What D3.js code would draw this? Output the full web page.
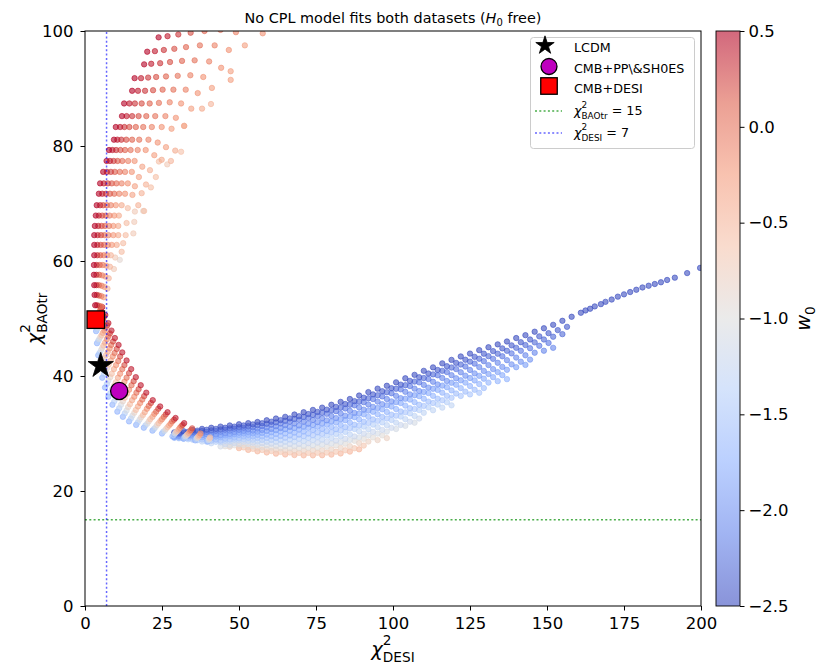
<!DOCTYPE html>
<html>
<head>
<meta charset="utf-8">
<title>No CPL model fits both datasets</title>
<script src="https://cdn.jsdelivr.net/npm/d3@7"></script>
<style>
  body { margin: 0; background: #fff; }
  svg text { font-family: "DejaVu Sans", sans-serif; fill: #000; }
</style>
</head>
<body>
<svg id="chart" width="819" height="670"></svg>
<script>
"use strict";

// ---- axis ticks ----
let xTicks = [0, 25, 50, 75, 100, 125, 150, 175, 200];
let yTicks = [0, 20, 40, 60, 80, 100];
let w0Ticks = [0.5, 0.0, -0.5, -1.0, -1.5, -2.0, -2.5];

// coolwarm colormap anchors (w0 value -> colour)
let cmapW0 = [-2.5, -2.125, -1.75, -1.375, -1.0, -0.625, -0.25, 0.125, 0.5];
let cmapColors = ["#3b4cc0", "#6282ea", "#8db0fe", "#b8d0f9", "#dddddd", "#f5c4ad", "#f49a7b", "#de604d", "#b40426"];

// threshold lines
let chi2DesiLimit = 7;
let chi2BaoLimit = 15;

// reference models [chi2_DESI, chi2_BAOtr]
let lcdmPoint = [5.1, 41.8];
let cmbPPPoint = [11.1, 37.4];
let cmbDesiPoint = [3.5, 49.8];

// ---- lower band: one curve per w0 (top edge first), points [chi2_DESI, chi2_BAOtr] ----
let bandW0 = [-2.5, -2.4, -2.3, -2.2, -2.1, -2.0, -1.9, -1.8, -1.7, -1.6, -1.5, -1.4, -1.3, -1.2, -1.1, -0.95, -0.8, -0.65, -0.5];
let bandCurves = [
  [[29,30.2],[32,30.4],[35,30.6],[38,30.8],[41,31.0],[44,31.2],[47,31.4],[50,31.6],[53,31.8],[56,32.0],[59,32.3],[62,32.6],[65,32.9],[68,33.3],[71,33.7],[74,34.1],[77,34.5],[80,35.0],[83,35.5],[86,36.0],[89,36.6],[92,37.2],[95,37.8],[98,38.3],[101,38.9],[104,39.6],[107,40.2],[110,40.9],[113,41.5],[116,42.2],[119,42.8],[122,43.4],[125,43.9],[128,44.5],[131,45.0],[134,45.5],[137,46.0],[140,46.6],[143,47.1],[146,47.7],[149,48.3],[152,48.9],[155,49.6],[158,50.3],[161,51.0],[162.5,51.4],[164,51.7],[165.5,52.1],[167.5,52.5],[169,52.9],[171,53.3],[173,53.8],[175,54.2],[177,54.6],[179,55.0],[181,55.4],[183,55.7],[185,56.0],[187,56.3],[189,56.7],[191.5,57.1],[195.5,57.9],[199.7,58.8]],
  [[30.5,30.1],[33.5,30.3],[36.5,30.5],[39.5,30.65],[42.5,30.8],[45.5,31.0],[48.5,31.2],[51.5,31.4],[54.5,31.58],[57.5,31.78],[60.5,32.05],[63.5,32.33],[66.5,32.63],[69.5,33.0],[72.5,33.38],[75.5,33.75],[78.5,34.15],[81.5,34.63],[84.5,35.13],[87.5,35.63],[90.5,36.23],[93.5,36.8],[96.5,37.35],[99.5,37.88],[102.5,38.5],[105.5,39.15],[108.5,39.78],[111.5,40.43],[114.5,41.05],[117.5,41.7],[120.5,42.28],[123.5,42.83],[126.5,43.33],[129.5,43.88],[132.5,44.33],[135.5,44.8],[138.5,45.33],[141.5,45.88],[144.5,46.35],[147.5,46.9],[150.5,47.45],[153.5,47.98],[156.5,48.55]],
  [[29,29.9],[32,30.1],[35,30.3],[38,30.45],[41,30.55],[44,30.7],[47,30.9],[50,31.1],[53,31.28],[56,31.45],[59,31.68],[62,31.93],[65,32.2],[68,32.53],[71,32.88],[74,33.23],[77,33.6],[80,34.03],[83,34.5],[86,35.0],[89,35.55],[92,36.13],[95,36.65],[98,37.18],[101,37.78],[104,38.4],[107,39.03],[110,39.65],[113,40.28],[116,40.9],[119,41.48],[122,42.0],[125,42.5],[128,43.0],[131,43.45],[134,43.88],[137,44.38],[140,44.9],[143,45.38],[146,45.85],[149,46.35],[152,46.83],[155,47.28]],
  [[30.5,29.9],[33.5,30.1],[36.5,30.25],[39.5,30.3],[42.5,30.45],[45.5,30.65],[48.5,30.83],[51.5,30.98],[54.5,31.1],[57.5,31.3],[60.5,31.53],[63.5,31.75],[66.5,32.05],[69.5,32.38],[72.5,32.7],[75.5,33.03],[78.5,33.43],[81.5,33.88],[84.5,34.35],[87.5,34.9],[90.5,35.45],[93.5,35.98],[96.5,36.45],[99.5,37.0],[102.5,37.68],[105.5,38.25],[108.5,38.9],[111.5,39.48],[114.5,40.13],[117.5,40.68],[120.5,41.2],[123.5,41.65],[126.5,42.15],[129.5,42.58],[132.5,42.98],[135.5,43.43],[138.5,43.93],[141.5,44.38],[144.5,44.83],[147.5,45.25],[150.5,45.75]],
  [[29,29.7],[32,29.8],[35,30.0],[38,30.1],[41,30.1],[44,30.3],[47,30.5],[50,30.65],[53,30.75],[56,30.85],[59,31.05],[62,31.25],[65,31.45],[68,31.75],[71,32.05],[74,32.35],[77,32.65],[80,33.05],[83,33.5],[86,33.95],[89,34.55],[92,35.05],[95,35.55],[98,36.0],[101,36.55],[104,37.25],[107,37.8],[110,38.45],[113,39.0],[116,39.65],[119,40.15],[122,40.65],[125,41.05],[128,41.55],[131,41.9],[134,42.3],[137,42.75],[140,43.2],[143,43.6],[146,44.05],[149,44.4],[152,44.9]],
  [[30.5,29.6],[33.5,29.7],[36.5,29.85],[39.5,29.9],[42.5,29.85],[45.5,30.05],[48.5,30.25],[51.5,30.45],[54.5,30.5],[57.5,30.6],[60.5,30.78],[63.5,30.95],[66.5,31.15],[69.5,31.4],[72.5,31.7],[75.5,31.98],[78.5,32.28],[81.5,32.68],[84.5,33.1],[87.5,33.58],[90.5,34.15],[93.5,34.63],[96.5,35.1],[99.5,35.58],[102.5,36.15],[105.5,36.8],[108.5,37.38],[111.5,37.98],[114.5,38.53],[117.5,39.13],[120.5,39.6],[123.5,40.05],[126.5,40.45],[129.5,40.88],[132.5,41.2],[135.5,41.58],[138.5,42.03],[141.5,42.48],[144.5,42.85]],
  [[29,29.45],[32,29.55],[35,29.65],[38,29.7],[41,29.65],[44,29.7],[47,29.9],[50,30.13],[53,30.25],[56,30.3],[59,30.43],[62,30.58],[65,30.75],[68,30.95],[71,31.2],[74,31.48],[77,31.75],[80,32.1],[83,32.5],[86,32.95],[89,33.48],[92,33.98],[95,34.43],[98,34.9],[101,35.45],[104,36.05],[107,36.65],[110,37.23],[113,37.78],[116,38.33],[119,38.83],[122,39.25],[125,39.65],[128,40.03],[131,40.35],[134,40.68],[137,41.08],[140,41.53],[143,41.93]],
  [[30.5,29.43],[33.5,29.53],[36.5,29.53],[39.5,29.45],[42.5,29.48],[45.5,29.68],[48.5,29.88],[51.5,30.0],[54.5,30.0],[57.5,30.08],[60.5,30.2],[63.5,30.33],[66.5,30.5],[69.5,30.7],[72.5,30.98],[75.5,31.2],[78.5,31.53],[81.5,31.9],[84.5,32.3],[87.5,32.83],[90.5,33.33],[93.5,33.78],[96.5,34.2],[99.5,34.7],[102.5,35.3],[105.5,35.9],[108.5,36.5],[111.5,37.03],[114.5,37.58],[117.5,38.05],[120.5,38.48],[123.5,38.85],[126.5,39.23],[129.5,39.53],[132.5,39.8],[135.5,40.15]],
  [[29,29.3],[32,29.35],[35,29.45],[38,29.35],[41,29.2],[44,29.35],[47,29.55],[50,29.75],[53,29.75],[56,29.75],[59,29.8],[62,29.9],[65,30.0],[68,30.15],[71,30.35],[74,30.6],[77,30.8],[80,31.15],[83,31.5],[86,31.9],[89,32.45],[92,32.9],[95,33.35],[98,33.75],[101,34.25],[104,34.85],[107,35.45],[110,36.05],[113,36.55],[116,37.1],[119,37.5],[122,37.9],[125,38.25],[128,38.6],[131,38.85],[134,39.1],[137,39.45]],
  [[30.5,29.25],[33.5,29.23],[36.5,29.25],[39.5,29.1],[42.5,28.93],[45.5,29.1],[48.5,29.3],[51.5,29.5],[54.5,29.48],[57.5,29.48],[60.5,29.5],[63.5,29.55],[66.5,29.65],[69.5,29.8],[72.5,29.98],[75.5,30.2],[78.5,30.43],[81.5,30.75],[84.5,31.1],[87.5,31.53],[90.5,32.05],[93.5,32.45],[96.5,32.88],[99.5,33.28],[102.5,33.83],[105.5,34.4],[108.5,35.0],[111.5,35.55],[114.5,36.05],[117.5,36.55],[120.5,36.95],[123.5,37.28],[126.5,37.6],[129.5,37.9]],
  [[29,29.25],[32,29.15],[35,29.08],[38,28.95],[41,28.75],[44,28.75],[47,28.95],[50,29.15],[53,29.23],[56,29.2],[59,29.2],[62,29.2],[65,29.25],[68,29.38],[71,29.53],[74,29.7],[77,29.93],[80,30.2],[83,30.53],[86,30.93],[89,31.4],[92,31.83],[95,32.2],[98,32.6],[101,33.1],[104,33.68],[107,34.25],[110,34.8],[113,35.3],[116,35.78],[119,36.2],[122,36.53],[125,36.8],[128,37.08]],
  [[30.5,29.15],[33.5,29.0],[36.5,28.83],[39.5,28.58],[42.5,28.55],[45.5,28.73],[48.5,28.93],[51.5,28.98],[54.5,28.9],[57.5,28.88],[60.5,28.88],[63.5,28.88],[66.5,28.95],[69.5,29.08],[72.5,29.23],[75.5,29.38],[78.5,29.63],[81.5,29.93],[84.5,30.28],[87.5,30.78],[90.5,31.2],[93.5,31.55],[96.5,31.93],[99.5,32.35],[102.5,32.95],[105.5,33.5],[108.5,34.08],[111.5,34.55],[114.5,35.03],[117.5,35.45]],
  [[29,29.4],[32,29.1],[35,28.9],[38,28.6],[41,28.3],[44,28.45],[47,28.6],[50,28.8],[53,28.7],[56,28.6],[59,28.55],[62,28.55],[65,28.55],[68,28.6],[71,28.7],[74,28.85],[77,28.95],[80,29.2],[83,29.5],[86,29.85],[89,30.4],[92,30.75],[95,31.1],[98,31.45],[101,31.9],[104,32.5],[107,33.05],[110,33.6],[113,34.05],[116,34.5],[119,34.9]],
  [[45.5,28.15],[48.5,28.33],[51.5,28.55],[54.5,28.4],[57.5,28.3],[60.5,28.23],[63.5,28.18],[66.5,28.18],[69.5,28.2],[72.5,28.3],[75.5,28.43],[78.5,28.55],[81.5,28.78],[84.5,29.08],[87.5,29.48],[90.5,29.98],[93.5,30.28],[96.5,30.63],[99.5,30.98],[102.5,31.48],[105.5,32.05],[108.5,32.6]],
  [[44,27.75],[47,27.95],[50,28.18],[53,28.2],[56,28.05],[59,27.95],[62,27.85],[65,27.8],[68,27.8],[71,27.85],[74,27.95],[77,28.08],[80,28.25],[83,28.5],[86,28.88],[89,29.33],[92,29.68],[95,29.98],[98,30.33],[101,30.78],[104,31.33],[107,31.88]],
  [[45.5,27.78],[48.5,27.95],[51.5,27.98],[54.5,27.78],[57.5,27.65],[60.5,27.55],[63.5,27.45],[66.5,27.43],[69.5,27.43],[72.5,27.5],[75.5,27.55],[78.5,27.7],[81.5,27.93],[84.5,28.23],[87.5,28.73],[90.5,29.08],[93.5,29.33],[96.5,29.68]],
  [[47,27.7],[50,27.85],[53,27.65],[56,27.45],[59,27.3],[62,27.2],[65,27.1],[68,27.05],[71,27.05],[74,27.1],[77,27.1],[80,27.25],[83,27.5],[86,27.8],[89,28.35],[92,28.6],[95,28.85],[98,29.2]],
  [[51.5,27.58],[54.5,27.33],[57.5,27.13],[60.5,26.95],[63.5,26.8],[66.5,26.7],[69.5,26.63],[72.5,26.63],[75.5,26.65],[78.5,26.68],[81.5,26.83],[84.5,27.08],[87.5,27.43],[90.5,27.9]],
  [[50,27.45],[53,27.15],[56,26.9],[59,26.7],[62,26.5],[65,26.35],[68,26.25],[71,26.2],[74,26.2],[77,26.22],[80,26.33],[83,26.53],[86,26.85],[89,27.25]]
];

// ---- left elbow: one curve per w0, from the red outer edge to the blue inner edge ----
let elbowW0 = [0.4, 0.2, 0.0, -0.2, -0.4, -0.6, -0.85, -1.1, -1.4, -1.7];
let elbowCurves = [
  [[5.6,52.0],[6.6,50.6],[7.6,49.2],[8.6,47.9],[9.7,46.6],[10.9,45.4],[12.1,44.1],[13.5,42.7],[15.0,41.2],[16.5,39.8],[18.1,38.4],[19.9,37.1],[22.0,35.8],[24.4,34.7],[26.8,33.7],[29.4,32.7],[32.2,31.8]],
  [[5.3,51.8],[6.2,50.3],[7.2,48.8],[8.1,47.4],[9.1,46.0],[10.3,44.7],[11.4,43.4],[12.8,41.9],[14.3,40.5],[15.8,39.1],[17.4,37.7],[19.2,36.5],[21.4,35.3],[23.8,34.3],[26.2,33.3],[28.9,32.4],[31.7,31.5],[34.8,30.9]],
  [[5.1,51.5],[5.9,49.9],[6.7,48.4],[7.6,46.9],[8.5,45.4],[9.6,44.0],[10.8,42.6],[12.1,41.2],[13.5,39.7],[15.1,38.4],[16.7,37.1],[18.6,35.9],[20.7,34.8],[23.1,33.8],[25.6,32.9],[28.3,32.1],[31.3,31.3],[34.4,30.6]],
  [[4.8,51.3],[5.5,49.6],[6.3,47.9],[7.1,46.4],[8.0,44.8],[9.0,43.4],[10.1,41.9],[11.4,40.4],[12.8,39.0],[14.3,37.6],[16.0,36.4],[17.9,35.3],[20.1,34.3],[22.5,33.4],[25.0,32.5],[27.8,31.7],[30.8,31.0],[34.1,30.4],[37.5,30.0]],
  [[4.5,51.0],[5.2,49.3],[5.8,47.5],[6.5,45.8],[7.4,44.2],[8.4,42.7],[9.4,41.2],[10.7,39.7],[12.1,38.2],[13.6,36.9],[15.3,35.8],[17.2,34.7],[19.4,33.7],[21.9,32.9],[24.5,32.2],[27.3,31.4],[30.4,30.7],[33.7,30.1],[37.2,29.7]],
  [[4.3,50.8],[4.8,48.9],[5.4,47.1],[6.0,45.3],[6.8,43.6],[7.7,42.0],[8.7,40.4],[10.0,38.9],[11.3,37.5],[12.9,36.2],[14.6,35.1],[16.5,34.1],[18.8,33.2],[21.2,32.5],[23.9,31.8],[26.8,31.1],[29.9,30.4],[33.3,29.9],[36.8,29.5],[40.6,29.3]],
  [[4.1,50.6],[4.5,48.6],[5.0,46.8],[5.6,44.9],[6.3,43.1],[7.2,41.4],[8.2,39.8],[9.4,38.3],[10.7,36.9],[12.3,35.6],[14.0,34.6],[16.0,33.6],[18.2,32.8],[20.7,32.1],[23.4,31.5],[26.3,30.8],[29.5,30.2],[33.0,29.7],[36.6,29.3],[40.4,29.1]],
  [[3.8,50.4],[4.2,48.4],[4.6,46.4],[5.2,44.5],[5.9,42.6],[6.7,40.8],[7.6,39.2],[8.8,37.7],[10.1,36.2],[11.7,35.0],[13.5,34.0],[15.4,33.1],[17.7,32.4],[20.2,31.7],[22.9,31.1],[25.9,30.5],[29.2,30.0],[32.6,29.5],[36.3,29.2],[40.2,28.9]],
  [[3.6,50.2],[3.9,48.1],[4.3,46.1],[4.7,44.0],[5.4,42.1],[6.1,40.3],[7.1,38.6],[8.2,37.0],[9.5,35.6],[11.1,34.4],[12.9,33.5],[14.9,32.6],[17.1,31.9],[19.6,31.4],[22.4,30.8],[25.4,30.3],[28.8,29.7],[32.3,29.3],[36.1,29.0],[40.0,28.8]],
  [[3.4,50.0],[3.6,47.8],[3.9,45.7],[4.3,43.6],[4.9,41.6],[5.6,39.7],[6.5,38.0],[7.6,36.4],[8.9,35.0],[10.5,33.8],[12.3,32.9],[14.3,32.1],[16.6,31.5],[19.1,31.0],[21.9,30.5],[25.0,30.0],[28.4,29.5],[32.0,29.1],[35.8,28.8],[39.8,28.6]]
];

// ---- upper arc: rows of points, w0 falls along each row (list per group) ----
let rowsTopW0 = [0.5, 0.4, 0.3, 0.2, 0.1, 0.0, -0.1, -0.2, -0.3, -0.4, -0.5, -0.6];
let rowsTop = [
  [[23.9,98.9],[26.8,99.1],[30.3,99.4],[34.3,99.7],[38.8,100.0],[44.0,100.2],[49.0,99.8],[57.7,99.6]],
  [[20.2,96.4],[22.7,96.5],[25.6,96.7],[29.0,96.9],[32.8,97.2],[37.3,97.5],[42.1,97.5],[46.7,96.7],[51.9,97.5]],
  [[19.2,94.2],[21.5,94.3],[24.4,94.4],[27.6,94.6],[31.5,94.8],[35.6,94.9],[40.3,94.7],[44.2,93.6],[47.3,93.0]],
  [[16.1,91.8],[18.2,91.8],[20.5,91.9],[23.1,92.0],[26.3,92.1],[30.1,92.2],[34.2,92.3],[38.4,92.0],[47.3,91.5]],
  [[15.3,89.6],[17.2,89.6],[19.5,89.6],[22.1,89.7],[25.2,89.8],[28.7,89.8],[32.7,89.8],[36.6,89.2],[41.2,90.1]],
  [[12.7,87.4],[14.4,87.4],[16.2,87.4],[18.4,87.4],[21.0,87.4],[24.0,87.5],[27.5,87.6],[31.2,87.4],[34.5,86.5],[38.0,86.5],[40.9,87.3]],
  [[12.0,85.2],[13.5,85.2],[15.3,85.2],[17.4,85.2],[19.9,85.2],[22.8,85.2],[26.1,85.2],[29.5,84.9],[32.2,83.5]],
  [[10.0,83.3],[11.4,83.3],[12.8,83.3],[14.4,83.3],[16.5,83.3],[18.9,83.3],[21.7,83.3],[24.9,83.3],[28.1,83.0],[32.2,83.5]],
  [[9.4,81.1],[10.5,81.1],[11.8,81.1],[13.4,81.1],[15.3,81.1],[17.6,81.1],[20.6,81.1],[23.6,80.6],[26.3,79.8],[29.3,79.2]],
  [[7.8,79.3],[8.9,79.3],[10.1,79.3],[11.5,79.3],[13.0,79.3],[14.8,79.3],[17.1,79.3],[19.7,79.3],[22.5,78.4],[24.9,77.6],[27.9,77.4],[31.2,79.0]]
];
let rowsMidW0 = [0.5, 0.38, 0.26, 0.14, 0.02, -0.1, -0.22, -0.34, -0.46, -0.58, -0.7];
let rowsMid = [
  [[7.0,77.4],[8.1,77.4],[9.3,77.4],[10.6,77.4],[12.1,77.4],[14.0,77.4],[16.1,77.4],[18.6,76.4],[21.1,75.8],[24.0,77.3],[26.7,76.8]],
  [[5.9,75.5],[7.1,75.5],[8.4,75.5],[9.7,75.5],[11.3,75.5],[13.0,75.5],[15.2,75.5],[17.5,74.6],[19.8,73.3],[23.0,74.6]],
  [[4.9,73.5],[6.1,73.5],[7.4,73.5],[8.7,73.5],[10.2,73.5],[11.9,73.5],[13.9,73.5],[16.2,73.0],[18.4,71.8],[21.4,72.8]],
  [[4.5,71.7],[5.6,71.7],[6.8,71.7],[8.1,71.7],[9.5,71.7],[11.1,71.7],[13.0,71.7],[15.4,71.5],[17.3,69.7],[19.2,68.7]]
];
let rowsLowW0 = [0.5, 0.35, 0.2, 0.05, -0.1, -0.25, -0.4, -0.55, -0.7, -0.85];
let rowsLow = [
  [[3.8,69.7],[4.9,69.7],[5.9,69.7],[7.1,69.7],[8.4,69.7],[10.0,69.7],[11.9,69.7],[13.9,69.2],[16.2,68.6],[18.9,68.7]],
  [[3.5,67.9],[4.5,67.9],[5.6,67.9],[6.7,67.9],[8.0,67.9],[9.5,67.9],[11.0,67.9],[13.5,66.6],[16.0,66.8]],
  [[3.2,66.1],[4.3,66.1],[5.4,66.1],[6.5,66.1],[7.8,66.1],[9.2,66.1],[10.8,66.1],[13.2,64.5],[15.7,64.8]],
  [[3.0,64.5],[4.1,64.5],[5.2,64.5],[6.3,64.5],[7.6,64.5],[9.2,64.5],[10.8,64.5],[12.4,63.1]],
  [[3.0,62.8],[4.0,62.8],[5.1,62.8],[6.2,62.8],[7.4,62.8],[8.7,62.8],[10.3,62.8],[11.9,61.6]]
];
let rowsBottomW0 = [0.5, 0.3, 0.1, -0.1, -0.3, -0.5, -0.7, -0.9];
let rowsBottom = [
  [[3.0,61.0],[4.0,61.0],[5.0,61.0],[6.1,61.0],[7.2,61.0],[8.4,61.0],[9.8,60.6],[11.3,60.2]],
  [[2.9,59.3],[3.8,59.3],[4.8,59.3],[5.8,59.3],[6.9,59.2],[8.1,59.0],[9.4,58.6]],
  [[2.9,57.6],[3.7,57.6],[4.6,57.6],[5.6,57.5],[6.6,57.3],[7.7,57.0]],
  [[3.0,55.8],[3.7,55.8],[4.5,55.8],[5.4,55.7],[6.3,55.5],[7.3,55.2]],
  [[3.1,54.1],[3.8,54.1],[4.5,54.0],[5.3,53.9],[6.1,53.7]],
  [[3.3,52.3],[3.9,52.3],[4.6,52.2],[5.3,52.1]]
];

// ---- layout ----
const plot = { left: 85, right: 701, top: 31, bottom: 606 };
const cbar = { left: 716, width: 24 };
const tickFont = 16.5;
const labelFont = 19.5;
const legendFont = 12.7;

let svg = d3.select("#chart");

let xScale = d3.scaleLinear().domain([0, 200]).range([plot.left, plot.right]);
let yScale = d3.scaleLinear().domain([0, 100]).range([plot.bottom, plot.top]);
let colorScale = d3.scaleLinear().domain(cmapW0).range(cmapColors)
  .interpolate(d3.interpolateRgb).clamp(true);

let defs = svg.append("defs");
defs.append("clipPath").attr("id", "plot-clip")
  .append("rect")
  .attr("x", plot.left).attr("y", plot.top)
  .attr("width", plot.right - plot.left).attr("height", plot.bottom - plot.top);

let scatter = svg.append("g").attr("clip-path", "url(#plot-clip)");

let drawDots = (points) => {
  scatter.append("g")
    .selectAll("circle")
    .data(points)
    .enter()
    .append("circle")
    .attr("cx", (d) => xScale(d.x))
    .attr("cy", (d) => yScale(d.y))
    .attr("r", 2.7)
    .attr("fill", (d) => colorScale(d.w0))
    .attr("fill-opacity", 0.6)
    .attr("stroke", (d) => colorScale(d.w0))
    .attr("stroke-opacity", 0.6)
    .attr("stroke-width", 1);
};

// curves: drawn from the last one to the first, so the first ends up on top
let curvesToPoints = (curves, w0s) => {
  let pts = [];
  for (let k = curves.length - 1; k >= 0; k--) {
    curves[k].forEach((p) => pts.push({ x: p[0], y: p[1], w0: w0s[k] }));
  }
  return pts;
};

// rows: right (pale) to left (dark) so the dark end sits on top
let rowsToPoints = (rows, w0s) => {
  let pts = [];
  rows.forEach((row) => {
    for (let i = row.length - 1; i >= 0; i--) {
      pts.push({ x: row[i][0], y: row[i][1], w0: w0s[i] });
    }
  });
  return pts;
};

drawDots(curvesToPoints(bandCurves, bandW0));
drawDots(curvesToPoints(elbowCurves, elbowW0));
drawDots(rowsToPoints(rowsBottom, rowsBottomW0));
drawDots(rowsToPoints(rowsLow, rowsLowW0));
drawDots(rowsToPoints(rowsMid, rowsMidW0));
drawDots(rowsToPoints(rowsTop, rowsTopW0));

// threshold lines
let dotted = (sel, colour, opacity) => sel
  .attr("stroke", colour).attr("stroke-opacity", opacity)
  .attr("stroke-width", 1.5).attr("stroke-dasharray", "2,2.3");

svg.append("line")
  .attr("x1", xScale(0)).attr("x2", xScale(200))
  .attr("y1", yScale(chi2BaoLimit)).attr("y2", yScale(chi2BaoLimit))
  .call(dotted, "#2ca02c", 0.85);
svg.append("line")
  .attr("x1", xScale(chi2DesiLimit)).attr("x2", xScale(chi2DesiLimit))
  .attr("y1", yScale(0)).attr("y2", yScale(100))
  .call(dotted, "#0000ff", 0.6);

// reference markers
let drawStar = (g, cx, cy, size) => {
  g.append("path")
    .attr("d", d3.symbol(d3.symbolStar, size)())
    .attr("transform", `translate(${cx},${cy})`)
    .attr("fill", "#000").attr("stroke", "#000").attr("stroke-width", 0.8);
};
let drawCircle = (g, cx, cy, r) => {
  g.append("circle").attr("cx", cx).attr("cy", cy).attr("r", r)
    .attr("fill", "#bf00bf").attr("stroke", "#000").attr("stroke-width", 1.3);
};
let drawSquare = (g, cx, cy, s) => {
  g.append("rect").attr("x", cx - s / 2).attr("y", cy - s / 2)
    .attr("width", s).attr("height", s)
    .attr("fill", "#ff0000").attr("stroke", "#000").attr("stroke-width", 1.3);
};

let markers = svg.append("g");
drawSquare(markers, xScale(cmbDesiPoint[0]), yScale(cmbDesiPoint[1]), 17.5);
drawCircle(markers, xScale(cmbPPPoint[0]), yScale(cmbPPPoint[1]), 8.6);
drawStar(markers, xScale(lcdmPoint[0]), yScale(lcdmPoint[1]), 199);

// ---- axes ----
let styleAxis = (g) => {
  g.select(".domain").remove();
  g.attr("font-family", "DejaVu Sans, sans-serif").attr("font-size", tickFont);
  g.selectAll(".tick line").attr("stroke", "#000").attr("stroke-width", 1);
};

let xAxis = d3.axisBottom(xScale).tickValues(xTicks).tickSize(4.5).tickPadding(6.5)
  .tickFormat(d3.format("d"));
svg.append("g").attr("transform", `translate(0,${plot.bottom})`).call(xAxis).call(styleAxis);

let yAxis = d3.axisLeft(yScale).tickValues(yTicks).tickSize(4.5).tickPadding(7)
  .tickFormat(d3.format("d"));
svg.append("g").attr("transform", `translate(${plot.left},0)`).call(yAxis).call(styleAxis);

svg.append("rect")
  .attr("x", plot.left).attr("y", plot.top)
  .attr("width", plot.right - plot.left).attr("height", plot.bottom - plot.top)
  .attr("fill", "none").attr("stroke", "#000").attr("stroke-width", 1);

// chi^2 with stacked super/subscript, as matplotlib mathtext
let chiText = (text, fs, sub, tail) => {
  let small = fs * 0.7;
  text.append("tspan").attr("font-style", "italic").text("\u03c7");
  text.append("tspan").attr("font-size", small).attr("dy", -0.55 * fs).text("2");
  text.append("tspan").attr("font-size", small)
    .attr("dx", -0.636 * small).attr("dy", 0.55 * fs + 0.3 * fs).text(sub);
  if (tail) {
    text.append("tspan").attr("font-size", fs).attr("dy", -0.3 * fs).text(tail);
  }
};

let xLabel = svg.append("text")
  .attr("x", (plot.left + plot.right) / 2).attr("y", 656)
  .attr("text-anchor", "middle").attr("font-size", labelFont);
chiText(xLabel, labelFont, "DESI");

let yLabel = svg.append("text")
  .attr("transform", `translate(41,${(plot.top + plot.bottom) / 2}) rotate(-90)`)
  .attr("text-anchor", "middle").attr("font-size", labelFont);
chiText(yLabel, labelFont, "BAOtr");

// title
let title = svg.append("text")
  .attr("x", (plot.left + plot.right) / 2).attr("y", 23)
  .attr("text-anchor", "middle").attr("font-size", 14.4);
title.append("tspan").text("No CPL model fits both datasets (");
title.append("tspan").attr("font-style", "italic").text("H");
title.append("tspan").attr("font-size", 10).attr("dy", 3).text("0");
title.append("tspan").attr("dy", -3).text(" free)");

// ---- colourbar ----
let cbarScale = d3.scaleLinear().domain([-2.5, 0.5]).range([plot.bottom, plot.top]);
let offsetScale = d3.scaleLinear().domain([-2.5, 0.5]).range(["100%", "0%"]);
let grad = defs.append("linearGradient").attr("id", "cbar-grad")
  .attr("x1", 0).attr("y1", 0).attr("x2", 0).attr("y2", 1);
grad.selectAll("stop")
  .data(cmapW0.map((w, i) => ({ w: w, c: cmapColors[i] })).reverse())
  .enter()
  .append("stop")
  .attr("offset", (d) => offsetScale(d.w))
  .attr("stop-color", (d) => d.c);

svg.append("rect")
  .attr("x", cbar.left).attr("y", plot.top)
  .attr("width", cbar.width).attr("height", plot.bottom - plot.top)
  .attr("fill", "url(#cbar-grad)").attr("fill-opacity", 0.6);
svg.append("rect")
  .attr("x", cbar.left).attr("y", plot.top)
  .attr("width", cbar.width).attr("height", plot.bottom - plot.top)
  .attr("fill", "none").attr("stroke", "#000").attr("stroke-width", 0.9);

let cAxis = d3.axisRight(cbarScale).tickValues(w0Ticks).tickSize(4.5).tickPadding(4)
  .tickFormat(d3.format(".1f"));
svg.append("g").attr("transform", `translate(${cbar.left + cbar.width},0)`)
  .call(cAxis).call(styleAxis);

let cLabel = svg.append("text")
  .attr("transform", `translate(810,${(plot.top + plot.bottom) / 2}) rotate(-90)`)
  .attr("text-anchor", "middle").attr("font-size", labelFont);
cLabel.append("tspan").attr("font-style", "italic").text("w");
cLabel.append("tspan").attr("font-size", labelFont * 0.7).attr("dy", 0.25 * labelFont).text("0");

// ---- legend ----
let legend = svg.append("g");
legend.append("rect")
  .attr("x", 530.5).attr("y", 37.5).attr("width", 164).attr("height", 111).attr("rx", 3)
  .attr("fill", "#fff").attr("fill-opacity", 0.8)
  .attr("stroke", "#cccccc").attr("stroke-width", 1);

let legendRows = [47, 68, 88, 111, 133];
let legendTextX = 574;

drawStar(legend, 545, legendRows[0] - 1.5, 105);
drawCircle(legend, 549, legendRows[1] - 1.5, 8);
drawSquare(legend, 549, legendRows[2] - 2, 16.5);
legend.append("line").attr("x1", 535).attr("x2", 562)
  .attr("y1", legendRows[3]).attr("y2", legendRows[3])
  .call(dotted, "#2ca02c", 0.85);
legend.append("line").attr("x1", 535).attr("x2", 562)
  .attr("y1", legendRows[4]).attr("y2", legendRows[4])
  .call(dotted, "#0000ff", 0.6);

let legendLabels = ["LCDM", "CMB+PP\\&SH0ES", "CMB+DESI"];
legendLabels.forEach((lab, i) => {
  legend.append("text")
    .attr("x", legendTextX).attr("y", legendRows[i]).attr("dy", "0.36em")
    .attr("font-size", legendFont).text(lab);
});
let lg4 = legend.append("text").attr("x", legendTextX).attr("y", legendRows[3] + 4)
  .attr("font-size", legendFont);
chiText(lg4, legendFont, "BAOtr", " = " + chi2BaoLimit);
let lg5 = legend.append("text").attr("x", legendTextX).attr("y", legendRows[4] + 4)
  .attr("font-size", legendFont);
chiText(lg5, legendFont, "DESI", " = " + chi2DesiLimit);
</script>
</body>
</html>
